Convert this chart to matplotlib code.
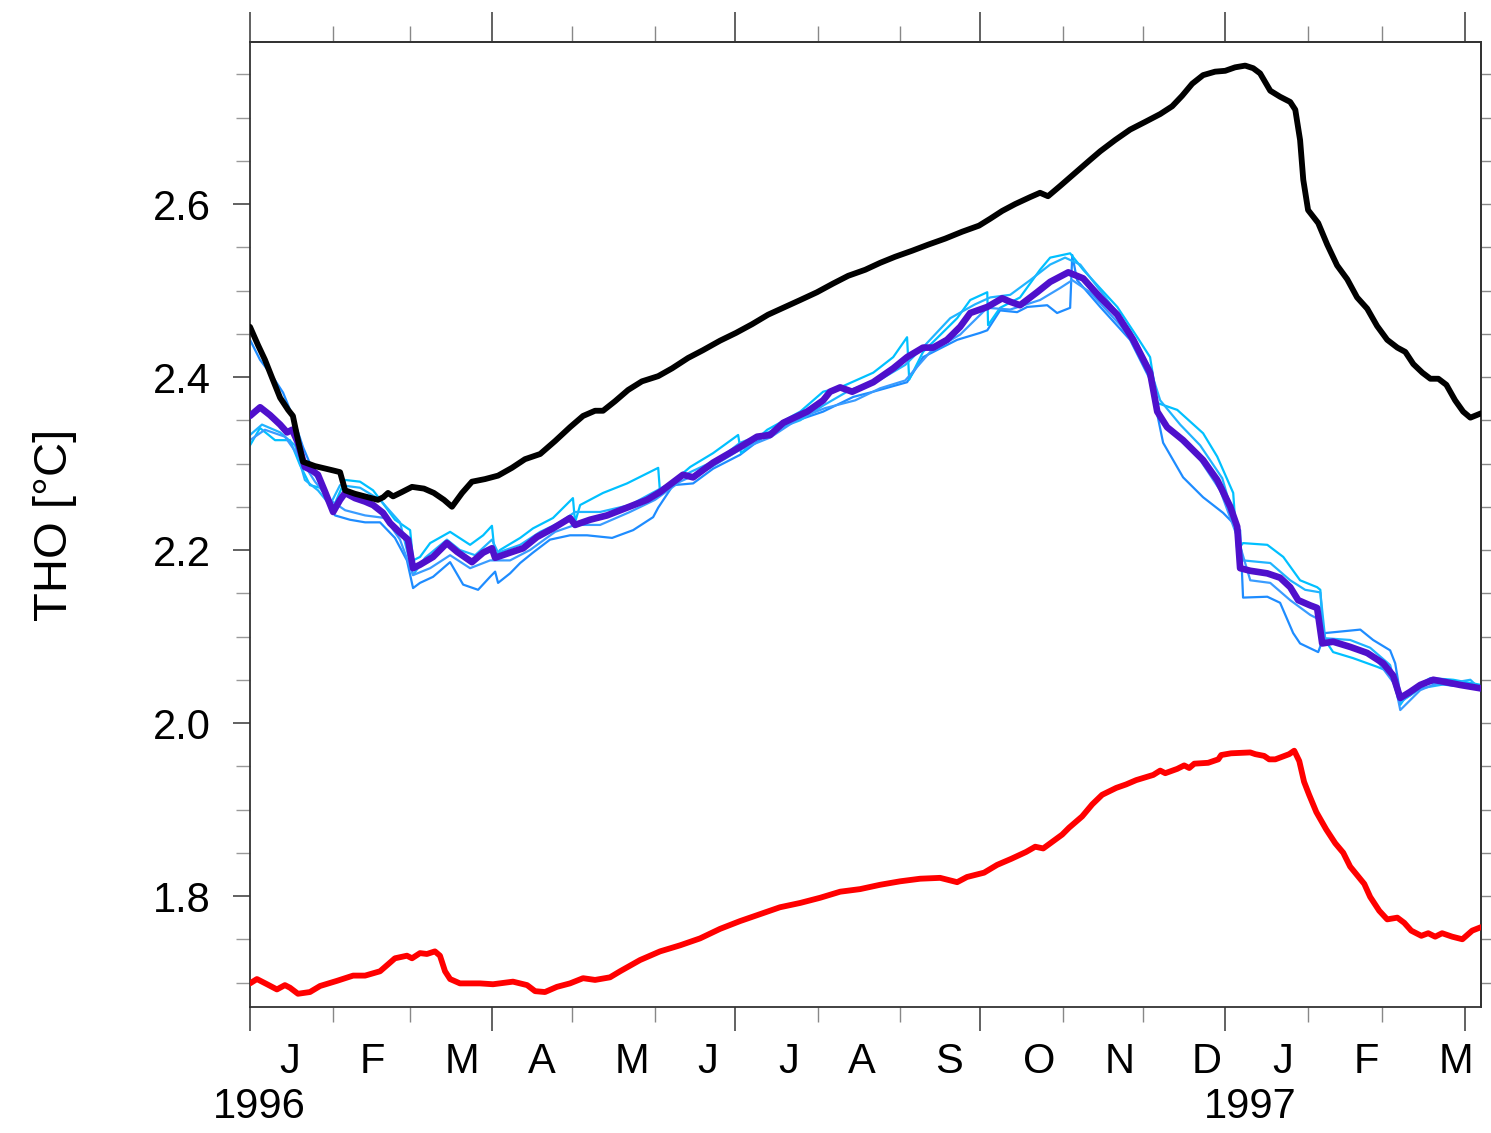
import numpy as np
import matplotlib
matplotlib.use("Agg")
import matplotlib.pyplot as plt
from matplotlib.ticker import NullFormatter
from matplotlib.transforms import blended_transform_factory

plt.rcParams['font.family'] = ['Liberation Sans', 'DejaVu Sans']

# x = days since 1996-01-01, y = THO [degC]
black = [(0, 2.458), (3.0, 2.437), (5.6, 2.420), (8.3, 2.399), (11.3, 2.376), (14.3, 2.362),
         (16.1, 2.355), (18.0, 2.327), (19.9, 2.302), (24.4, 2.297), (31.2, 2.292), (33.8, 2.290),
         (35.7, 2.269), (39.4, 2.265), (44.3, 2.261), (48.0, 2.258), (50.0, 2.261), (51.8, 2.266),
         (53.7, 2.262), (57.0, 2.267), (60.8, 2.273), (65.3, 2.271), (69.0, 2.266), (72.8, 2.258),
         (75.8, 2.250), (79.6, 2.266), (83.3, 2.279), (88.2, 2.282), (93.1, 2.286), (98.3, 2.295),
         (103.2, 2.305), (108.9, 2.311), (114.5, 2.326), (120.1, 2.342), (125.0, 2.355), (129.5, 2.361),
         (132.5, 2.361), (137.0, 2.372), (141.9, 2.385), (147.1, 2.395), (153.2, 2.401), (158.4, 2.410),
         (164.4, 2.422), (170.0, 2.431), (176.4, 2.442), (182.4, 2.451), (188.4, 2.461), (194.4, 2.472),
         (200.8, 2.481), (206.5, 2.489), (212.8, 2.498), (218.8, 2.508), (224.5, 2.517), (230.9, 2.524),
         (236.5, 2.532), (242.1, 2.539), (248.5, 2.546), (254.5, 2.553), (260.9, 2.560), (267.3, 2.568),
         (273.6, 2.575), (277.8, 2.583), (282.3, 2.592), (287.2, 2.600), (292.8, 2.608), (296.5, 2.613),
         (299.5, 2.609), (304.1, 2.621), (309.7, 2.636), (315.3, 2.651), (319.1, 2.661), (324.7, 2.674),
         (330.3, 2.686), (336.0, 2.695), (341.6, 2.704), (346.1, 2.713), (349.8, 2.725), (353.6, 2.739),
         (357.7, 2.749), (362.2, 2.753), (366.0, 2.754), (369.7, 2.758), (373.5, 2.760), (376.5, 2.757),
         (379.1, 2.751), (382.9, 2.731), (386.6, 2.724), (390.4, 2.718), (392.3, 2.709), (394.1, 2.674),
         (395.3, 2.628), (397.1, 2.593), (400.9, 2.578), (404.3, 2.553), (408.0, 2.529), (411.8, 2.513),
         (415.5, 2.492), (419.3, 2.479), (423.0, 2.459), (426.8, 2.443), (430.6, 2.434), (433.6, 2.429),
         (436.6, 2.415), (440.0, 2.405), (443.0, 2.398), (446.0, 2.398), (449.0, 2.391), (452.3, 2.373),
         (455.3, 2.360), (458.0, 2.353), (462.0, 2.358)]

red = [(0, 1.699), (2.6, 1.704), (6.4, 1.698), (10.1, 1.692), (13.1, 1.697), (15.0, 1.694),
       (18.0, 1.687), (22.5, 1.689), (26.3, 1.696), (32.7, 1.702), (38.7, 1.708), (43.2, 1.708),
       (48.8, 1.713), (51.8, 1.721), (54.4, 1.728), (58.9, 1.731), (60.8, 1.728), (63.8, 1.734),
       (66.4, 1.733), (69.4, 1.736), (71.3, 1.731), (73.2, 1.713), (75.1, 1.704), (78.8, 1.699),
       (83.7, 1.699), (86.3, 1.699), (91.2, 1.698), (98.7, 1.701), (104.0, 1.697), (107.0, 1.690),
       (110.7, 1.689), (115.2, 1.695), (120.1, 1.699), (125.0, 1.705), (129.5, 1.703), (135.1, 1.706),
       (138.9, 1.713), (146.4, 1.726), (153.9, 1.736), (161.4, 1.743), (168.9, 1.751), (176.4, 1.762),
       (183.9, 1.771), (191.4, 1.779), (198.9, 1.787), (206.5, 1.792), (214.0, 1.798), (221.5, 1.805),
       (229.0, 1.808), (236.5, 1.813), (244.0, 1.817), (251.5, 1.820), (259.0, 1.821), (265.4, 1.816),
       (269.1, 1.822), (275.5, 1.827), (280.4, 1.836), (285.7, 1.843), (291.3, 1.851), (294.7, 1.857),
       (297.7, 1.855), (304.8, 1.871), (307.4, 1.879), (312.3, 1.892), (316.1, 1.906), (319.8, 1.917),
       (325.1, 1.925), (328.8, 1.929), (332.6, 1.934), (339.0, 1.940), (341.6, 1.945), (343.5, 1.942),
       (348.0, 1.947), (350.6, 1.951), (352.5, 1.948), (354.4, 1.953), (359.6, 1.954), (363.4, 1.958),
       (364.5, 1.963), (368.2, 1.965), (375.4, 1.966), (377.3, 1.964), (380.6, 1.962), (382.5, 1.958),
       (384.8, 1.958), (390.0, 1.964), (391.9, 1.968), (393.8, 1.956), (395.6, 1.932), (397.5, 1.917),
       (400.2, 1.897), (403.9, 1.877), (407.3, 1.861), (410.3, 1.850), (412.9, 1.834), (418.2, 1.814),
       (420.4, 1.799), (423.8, 1.783), (426.8, 1.773), (430.6, 1.775), (433.2, 1.769), (435.8, 1.760),
       (439.6, 1.754), (442.2, 1.757), (444.8, 1.753), (447.4, 1.757), (451.2, 1.753), (455.0, 1.750),
       (458.7, 1.760), (462.0, 1.764)]

ens_mean = [(0, 2.355), (3.8, 2.365), (7.5, 2.356), (11.3, 2.345), (13.9, 2.336), (15.8, 2.339),
            (18.0, 2.324), (20.6, 2.296), (23.3, 2.292), (25.5, 2.287), (28.2, 2.267), (31.2, 2.244),
            (33.8, 2.258), (35.7, 2.266), (39.4, 2.260), (43.2, 2.256), (46.2, 2.252), (49.9, 2.243),
            (52.6, 2.231), (56.3, 2.220), (59.3, 2.212), (61.2, 2.179), (63.8, 2.183), (68.7, 2.192),
            (73.9, 2.208), (77.7, 2.198), (83.3, 2.186), (87.5, 2.197), (90.8, 2.202), (92.0, 2.191),
            (97.6, 2.197), (102.5, 2.202), (107.7, 2.215), (113.7, 2.225), (120.1, 2.237), (122.0, 2.229),
            (127.6, 2.235), (134.0, 2.240), (141.5, 2.249), (149.0, 2.258), (153.9, 2.267), (162.5, 2.287),
            (166.3, 2.284), (173.8, 2.301), (183.9, 2.319), (190.3, 2.331), (195.2, 2.333), (200.1, 2.347),
            (209.1, 2.360), (215.1, 2.373), (217.7, 2.383), (221.5, 2.388), (226.0, 2.383), (233.9, 2.394),
            (241.4, 2.410), (246.6, 2.423), (252.6, 2.434), (256.4, 2.434), (261.6, 2.443), (266.5, 2.458),
            (270.3, 2.474), (276.7, 2.481), (282.3, 2.491), (285.3, 2.487), (289.0, 2.483), (295.4, 2.498),
            (300.3, 2.510), (307.1, 2.521), (312.7, 2.514), (319.1, 2.492), (325.5, 2.472), (331.5, 2.443),
            (337.8, 2.405), (340.5, 2.360), (344.2, 2.342), (350.2, 2.327), (357.7, 2.304), (363.0, 2.281),
            (367.9, 2.250), (370.5, 2.227), (371.6, 2.179), (375.4, 2.176), (381.8, 2.173), (386.6, 2.168),
            (390.4, 2.157), (393.4, 2.142), (397.9, 2.136), (400.5, 2.133), (402.4, 2.092), (406.5, 2.094),
            (412.9, 2.088), (419.3, 2.081), (425.3, 2.069), (429.0, 2.055), (431.7, 2.029), (435.4, 2.036),
            (439.2, 2.044), (444.1, 2.050), (449.3, 2.047), (454.2, 2.044), (462.0, 2.040)]

member1 = [(0, 2.443), (3.75, 2.420), (8.6, 2.400), (12.4, 2.382), (16.1, 2.354), (19.9, 2.319),
           (23.6, 2.292), (27.4, 2.269), (31.9, 2.240), (37.5, 2.235), (43.2, 2.232), (48.8, 2.232),
           (54.4, 2.214), (58.9, 2.188), (61.2, 2.156), (63.8, 2.162), (68.7, 2.169), (75.1, 2.186),
           (80.0, 2.160), (85.6, 2.154), (90.1, 2.169), (92.0, 2.175), (93.1, 2.162), (97.6, 2.173),
           (101.4, 2.185), (106.2, 2.197), (112.6, 2.212), (120.1, 2.217), (126.5, 2.217), (135.9, 2.214),
           (143.8, 2.223), (151.3, 2.238), (153.2, 2.249), (158.8, 2.275), (166.3, 2.277), (173.8, 2.294),
           (183.9, 2.310), (194.1, 2.334), (202.7, 2.347), (215.1, 2.360), (226.4, 2.377), (233.9, 2.383),
           (246.6, 2.394), (252.6, 2.423), (265.4, 2.443), (274.0, 2.451), (276.7, 2.454), (281.5, 2.477),
           (287.9, 2.475), (291.7, 2.481), (299.2, 2.483), (302.9, 2.474), (307.8, 2.480), (308.6, 2.541),
           (310.4, 2.512), (319.1, 2.481), (330.3, 2.443), (337.8, 2.397), (342.7, 2.324), (350.2, 2.284),
           (357.7, 2.261), (365.2, 2.243), (371.6, 2.223), (372.7, 2.145), (381.8, 2.146), (386.6, 2.139),
           (391.5, 2.104), (394.1, 2.092), (400.9, 2.082), (403.5, 2.104), (416.7, 2.108), (421.5, 2.096),
           (427.9, 2.084), (429.8, 2.069), (432.1, 2.026), (435.4, 2.032), (441.8, 2.047), (451.6, 2.043),
           (456.8, 2.046), (462.1, 2.038)]

member2 = [(0, 2.321), (3.75, 2.341), (9.4, 2.327), (15.0, 2.327), (18.8, 2.298), (22.5, 2.275),
           (26.3, 2.272), (31.2, 2.249), (35.7, 2.281), (41.3, 2.279), (46.2, 2.269), (49.9, 2.254),
           (54.4, 2.235), (60.1, 2.223), (61.2, 2.188), (63.8, 2.192), (67.6, 2.208), (75.1, 2.221),
           (82.6, 2.206), (87.5, 2.217), (90.8, 2.228), (92.0, 2.192), (93.8, 2.200), (101.4, 2.214),
           (106.2, 2.225), (113.7, 2.237), (121.2, 2.260), (122.0, 2.232), (123.9, 2.252), (132.5, 2.266),
           (141.5, 2.277), (153.2, 2.295), (153.9, 2.266), (165.2, 2.296), (173.8, 2.312), (183.2, 2.333),
           (184.3, 2.312), (194.1, 2.339), (206.5, 2.360), (215.1, 2.383), (221.5, 2.388), (233.9, 2.405),
           (241.4, 2.423), (246.6, 2.446), (247.4, 2.397), (252.6, 2.429), (265.4, 2.468), (270.3, 2.489),
           (276.7, 2.498), (277.0, 2.460), (281.5, 2.480), (289.0, 2.492), (296.5, 2.524), (300.3, 2.538),
           (307.8, 2.543), (312.7, 2.524), (325.5, 2.481), (333.0, 2.446), (337.8, 2.423), (340.5, 2.370),
           (348.0, 2.362), (357.7, 2.335), (363.0, 2.308), (369.0, 2.266), (370.5, 2.200), (372.7, 2.208),
           (381.8, 2.206), (387.8, 2.192), (394.1, 2.165), (400.5, 2.157), (401.7, 2.154), (402.8, 2.099),
           (406.5, 2.082), (414.0, 2.075), (423.0, 2.065), (427.9, 2.059), (431.7, 2.021), (435.4, 2.038),
           (443.0, 2.052), (451.6, 2.050), (462.1, 2.044)]

member3 = [(0, 2.333), (4.5, 2.345), (11.3, 2.336), (16.9, 2.321), (20.6, 2.281), (25.5, 2.269),
           (30.0, 2.252), (33.8, 2.275), (41.3, 2.272), (48.8, 2.258), (56.3, 2.232), (61.2, 2.171),
           (65.7, 2.191), (73.9, 2.212), (78.8, 2.200), (84.5, 2.194), (90.8, 2.212), (93.1, 2.197),
           (101.4, 2.206), (108.9, 2.221), (116.4, 2.232), (122.0, 2.244), (131.4, 2.244), (142.6, 2.252),
           (152.8, 2.269), (165.2, 2.290), (176.4, 2.306), (183.9, 2.324), (195.2, 2.337), (206.5, 2.350),
           (215.1, 2.367), (225.2, 2.385), (236.5, 2.397), (245.9, 2.414), (253.4, 2.437), (262.8, 2.468),
           (272.1, 2.484), (277.8, 2.492), (285.3, 2.495), (292.8, 2.512), (300.3, 2.530), (305.9, 2.538),
           (311.6, 2.530), (319.1, 2.500), (330.3, 2.454), (337.8, 2.410), (341.6, 2.373), (349.1, 2.345),
           (356.6, 2.321), (364.9, 2.283), (370.5, 2.223), (372.7, 2.188), (382.9, 2.185), (390.4, 2.165),
           (396.0, 2.154), (401.7, 2.151), (403.5, 2.098), (412.9, 2.096), (420.4, 2.087), (427.9, 2.067),
           (431.7, 2.024), (439.2, 2.040), (450.5, 2.046), (458.0, 2.050), (462.1, 2.038)]

member4 = [(0, 2.327), (5.6, 2.339), (13.1, 2.331), (18.8, 2.306), (24.4, 2.279), (30.0, 2.258),
           (35.7, 2.246), (43.2, 2.240), (50.7, 2.237), (56.3, 2.212), (61.2, 2.171), (67.6, 2.179),
           (75.1, 2.194), (82.6, 2.179), (90.1, 2.188), (97.6, 2.188), (105.1, 2.200), (114.5, 2.221),
           (122.0, 2.229), (131.4, 2.229), (142.6, 2.244), (152.0, 2.258), (161.4, 2.279), (172.7, 2.295),
           (183.9, 2.316), (195.2, 2.330), (206.5, 2.353), (215.8, 2.364), (227.1, 2.373), (236.5, 2.387),
           (245.9, 2.396), (255.3, 2.429), (266.5, 2.449), (276.7, 2.480), (285.3, 2.478), (296.5, 2.489),
           (304.1, 2.503), (308.6, 2.512), (315.3, 2.498), (326.6, 2.460), (336.0, 2.420), (341.6, 2.351),
           (349.1, 2.327), (356.6, 2.304), (364.1, 2.269), (370.9, 2.212), (375.4, 2.165), (382.9, 2.162),
           (390.4, 2.142), (397.9, 2.125), (401.7, 2.119), (403.5, 2.096), (412.9, 2.087), (422.3, 2.075),
           (429.8, 2.044), (431.7, 2.015), (439.2, 2.038), (448.6, 2.050), (462.1, 2.038)]

members = [member1, member2, member3, member4]
member_colors = ['#1e8cff', '#00c0ff', '#20b4ff', '#3a9cff']

month_letters = ['J', 'F', 'M', 'A', 'M', 'J', 'J', 'A', 'S', 'O', 'N', 'D', 'J', 'F', 'M']
year_labels = ['1996', '1997']

# month starts as day numbers
t0 = np.datetime64('1996-01-01')
months = np.arange('1996-01', '1997-05', dtype='datetime64[M]').astype('datetime64[D]')
month_days = (months - t0).astype(int)
major_days = month_days[::3]
minor_days = np.array([d for i, d in enumerate(month_days) if i % 3])

# where the month letters / years sit (days)
letter_pos = [15.0, 45.8, 79.6, 109.6, 143.4, 171.9, 202.3, 229.7, 262.4, 296.2,
              326.2, 359.2, 387.4, 418.9, 452.7]
year_pos = [3.6, 375.4]

fig = plt.figure(figsize=(14.91, 11.33), dpi=100)
ax = fig.add_axes([250 / 1491, 1 - 1007 / 1133, 1231 / 1491, 965 / 1133])

for m, c in zip(members, member_colors):
    d, v = zip(*m)
    ax.plot(d, v, color=c, lw=1.6, zorder=2)

d, v = zip(*ens_mean)
ax.plot(d, v, color='#4f10cc', lw=4.8, zorder=3, solid_capstyle='round')
d, v = zip(*black)
ax.plot(d, v, color='black', lw=4.2, zorder=4, solid_capstyle='round')
d, v = zip(*red)
ax.plot(d, v, color='#ff0000', lw=4.2, zorder=4, solid_capstyle='round')

ax.set_xlim(0, 462)
ax.set_ylim(1.6717, 2.7873)

spine_c = '#333333'
tick_c = '#555555'
for s in ax.spines.values():
    s.set_color(spine_c)
    s.set_linewidth(1.3)

# bottom / left ticks
ax.set_xticks(major_days)
ax.set_xticks(minor_days, minor=True)
ax.xaxis.set_major_formatter(NullFormatter())
ax.tick_params(axis='x', which='major', direction='out', length=17, width=1.3, color=tick_c)
ax.tick_params(axis='x', which='minor', direction='out', length=10.5, width=1.0, color='#888888')

ax.set_yticks([1.8, 2.0, 2.2, 2.4, 2.6])
ax.set_yticks(np.arange(1.70, 2.76, 0.05), minor=True)
ax.set_yticklabels(['1.8', '2.0', '2.2', '2.4', '2.6'])
ax.tick_params(axis='y', which='major', direction='out', length=12, width=1.3, color=tick_c,
               labelsize=30, pad=16)
ax.tick_params(axis='y', which='minor', direction='out', length=10, width=1.0, color='#999999')

# top / right ticks
top = ax.secondary_xaxis('top')
top.set_xticks(major_days)
top.set_xticks(minor_days, minor=True)
top.xaxis.set_major_formatter(NullFormatter())
top.tick_params(axis='x', which='major', direction='out', length=21.5, width=1.3, color=tick_c)
top.tick_params(axis='x', which='minor', direction='out', length=11.5, width=1.0, color='#888888')
top.spines['top'].set_color(spine_c)
top.spines['top'].set_linewidth(1.3)

right = ax.secondary_yaxis('right')
right.set_yticks([1.8, 2.0, 2.2, 2.4, 2.6])
right.set_yticks(np.arange(1.70, 2.76, 0.05), minor=True)
right.yaxis.set_major_formatter(NullFormatter())
right.tick_params(axis='y', which='both', direction='out', length=7, width=1.0, color='#888888')
right.spines['right'].set_color(spine_c)
right.spines['right'].set_linewidth(1.3)

# month letters and years
trans = blended_transform_factory(ax.transData, ax.transAxes)
for pos, letter in zip(letter_pos, month_letters):
    ax.text(pos, -35 / 965, letter, transform=trans, ha='center', va='top', fontsize=30)
for pos, yr in zip(year_pos, year_labels):
    ax.text(pos, -80 / 965, yr, transform=trans, ha='center', va='top', fontsize=30)

ax.set_ylabel('THO [°C]', fontsize=34, va='center')
ax.yaxis.set_label_coords(-195 / 1231, 0.5)

fig.savefig('out.png', dpi=100, facecolor='white')
